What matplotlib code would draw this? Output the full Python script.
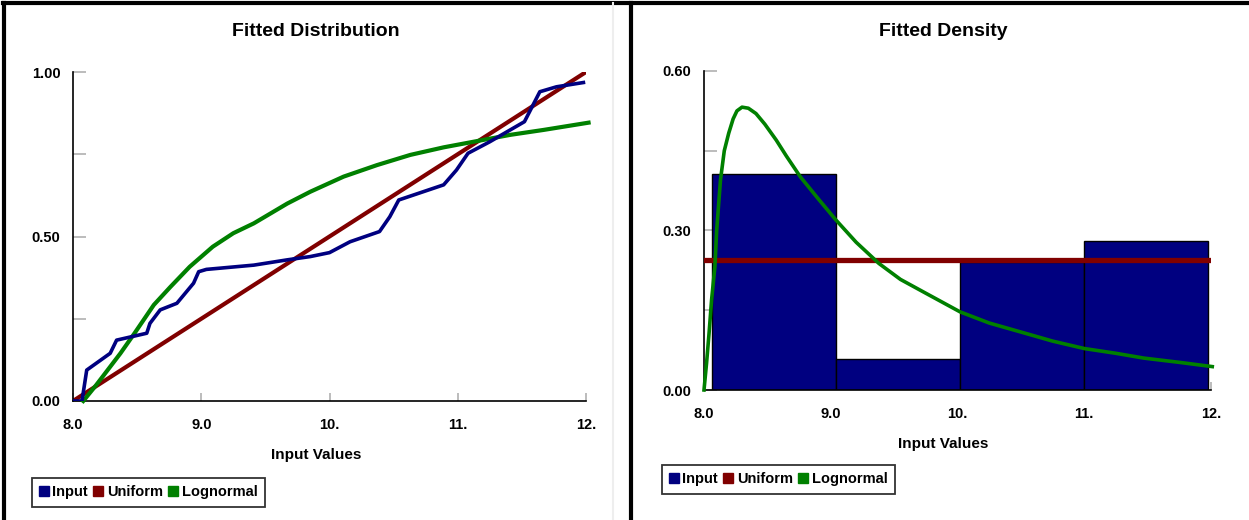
import matplotlib
matplotlib.use('Agg')
import matplotlib.pyplot as plt
from matplotlib.lines import Line2D
from matplotlib import font_manager

# font: narrow bold sans like the original
names = {f.name for f in font_manager.fontManager.ttflist}
fam = [n for n in ['Liberation Sans Narrow', 'Liberation Sans', 'DejaVu Sans'] if n in names]
plt.rcParams['font.family'] = fam
plt.rcParams['font.weight'] = 'bold'

# ---- data ----
# fitted distribution (CDF)
input_x = [8.0, 8.07, 8.107, 8.29, 8.34, 8.575, 8.60, 8.68, 8.81, 8.94, 8.98, 9.04,
           9.41, 9.67, 9.85, 10.00, 10.16, 10.39, 10.47, 10.54, 10.89, 10.99, 11.08,
           11.25, 11.52, 11.64, 11.77, 11.98]
input_cdf = [0.0, 0.0, 0.094, 0.145, 0.185, 0.206, 0.236, 0.277, 0.297, 0.358, 0.393, 0.400,
             0.413, 0.429, 0.439, 0.451, 0.484, 0.515, 0.560, 0.611, 0.657, 0.702, 0.753,
             0.788, 0.849, 0.940, 0.955, 0.968]
uniform_x = [8.0, 12.0]
uniform_cdf = [0.0, 1.0]
logn_x = [8.08, 8.18, 8.37, 8.48, 8.63, 8.76, 8.91, 9.09, 9.25, 9.41, 9.67, 9.85, 10.11,
          10.37, 10.63, 10.89, 11.15, 11.41, 11.67, 12.02]
logn_cdf = [0.0, 0.048, 0.145, 0.206, 0.292, 0.347, 0.408, 0.469, 0.510, 0.540, 0.600,
            0.636, 0.682, 0.717, 0.748, 0.771, 0.790, 0.809, 0.824, 0.846]

# fitted density
bin_edges = [8.06, 9.04, 10.02, 11.00, 11.98]
bin_heights = [0.406, 0.058, 0.241, 0.281]
uniform_pdf = 0.245
pdf_x = [8.0, 8.02, 8.04, 8.06, 8.086, 8.10, 8.13, 8.16, 8.195, 8.23, 8.26, 8.30, 8.35,
         8.41, 8.48, 8.57, 8.65, 8.76, 8.90, 9.04, 9.20, 9.38, 9.55, 9.75, 10.02,
         10.25, 10.53, 10.75, 11.00, 11.25, 11.47, 11.75, 12.01]
logn_pdf = [0.0, 0.05, 0.107, 0.17, 0.232, 0.30, 0.395, 0.45, 0.483, 0.51, 0.525, 0.532,
            0.530, 0.520, 0.500, 0.470, 0.440, 0.401, 0.360, 0.320, 0.278, 0.238, 0.208,
            0.182, 0.147, 0.126, 0.107, 0.092, 0.078, 0.069, 0.060, 0.052, 0.044]

xticks = [8, 9, 10, 11, 12]
xticklabels = ['8.0', '9.0', '10.', '11.', '12.']

navy = '#000080'
red = '#800000'
green = '#008000'

W, H = 1249, 520
fig = plt.figure(figsize=(W / 100, H / 100), dpi=100)


def fx(px):
    return px / W


def fy(py):
    return 1 - py / H


def style_axes(ax, yticks, ylabels):
    for s in ['top', 'right']:
        ax.spines[s].set_visible(False)
    for s in ['left', 'bottom']:
        ax.spines[s].set_color('black')
        ax.spines[s].set_linewidth(1.2)
    ax.set_xlim(8, 12)
    ax.set_xticks(xticks)
    ax.set_xticklabels(xticklabels)
    ax.set_yticks(yticks)
    ax.set_yticklabels(ylabels)
    ax.tick_params(axis='y', direction='in', length=9, width=1.2, color='#b0b0b0',
                   pad=9, labelsize=10.5)
    ax.tick_params(axis='x', direction='in', length=6, width=1.2, color='#b0b0b0',
                   pad=12, labelsize=10.5)


# ---- left: fitted distribution ----
ax1 = fig.add_axes([fx(73), fy(401), fx(586) - fx(73), fy(72) - fy(401)])
ax1.plot(uniform_x, uniform_cdf, color=red, lw=3.0, zorder=2)
ax1.plot(logn_x, logn_cdf, color=green, lw=3.0, zorder=3, clip_on=False)
ax1.plot(input_x, input_cdf, color=navy, lw=2.6, zorder=4)
ax1.set_ylim(0, 1)
style_axes(ax1, [0, 0.25, 0.5, 0.75, 1.0], ['0.00', '', '0.50', '', '1.00'])

# ---- right: fitted density ----
ax2 = fig.add_axes([fx(704), fy(390), fx(1211) - fx(704), fy(71) - fy(390)])
widths = [bin_edges[i + 1] - bin_edges[i] for i in range(len(bin_heights))]
ax2.bar(bin_edges[:-1], bin_heights, width=widths, align='edge', color=navy,
        edgecolor='black', linewidth=1.0, zorder=2)
ax2.axhline(uniform_pdf, color=red, lw=3.8, zorder=3)
ax2.plot(pdf_x, logn_pdf, color=green, lw=2.6, zorder=4, clip_on=False)
ax2.set_ylim(0, 0.6)
style_axes(ax2, [0, 0.15, 0.30, 0.45, 0.60], ['0.00', '', '0.30', '', '0.60'])

# titles and axis labels
fig.text(fx(316), fy(31), 'Fitted Distribution', ha='center', va='center', fontsize=14)
fig.text(fx(943), fy(31), 'Fitted Density', ha='center', va='center', fontsize=14)
fig.text(fx(316), fy(455), 'Input Values', ha='center', va='center', fontsize=11)
fig.text(fx(943), fy(444), 'Input Values', ha='center', va='center', fontsize=11)

# legends
handles = [Line2D([], [], marker='s', ls='none', color=c, markersize=6.5)
           for c in [navy, red, green]]
labels = ['Input', 'Uniform', 'Lognormal']
for (x, y) in [(32, 478), (662, 465)]:
    leg = fig.legend(handles, labels, loc='upper left', bbox_to_anchor=(fx(x), fy(y)),
                     ncol=3, fontsize=10.5, frameon=True, fancybox=False,
                     handlelength=0.6, handletextpad=0.3, columnspacing=0.4,
                     borderpad=0.5, borderaxespad=0)
    leg.get_frame().set_edgecolor('black')
    leg.get_frame().set_linewidth(1.3)

# outer frame lines
fig.add_artist(Line2D([fx(3), 1], [fy(3), fy(3)], color='black', lw=3))
fig.add_artist(Line2D([fx(4), fx(4)], [0, fy(3)], color='black', lw=3))
fig.add_artist(Line2D([fx(631), fx(631)], [0, fy(3)], color='black', lw=3))
fig.add_artist(Line2D([fx(613), fx(613)], [0, fy(3)], color='#eeeeee', lw=1.5))

fig.savefig('out.png', dpi=100)
